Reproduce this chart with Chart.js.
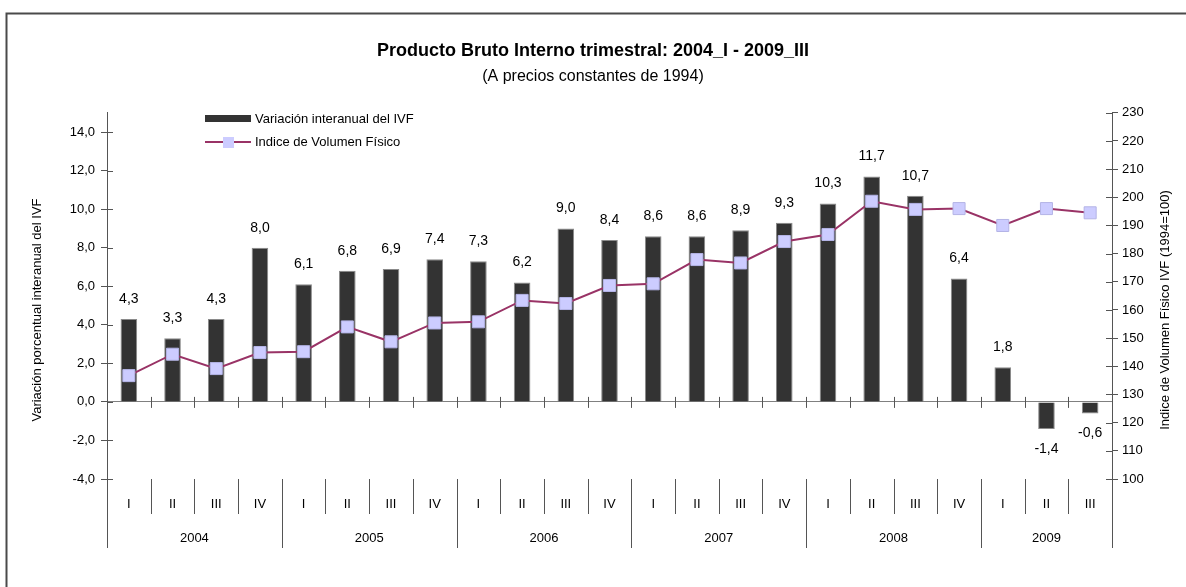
<!DOCTYPE html>
<html lang="es">
<head>
<meta charset="UTF-8">
<title>Producto Bruto Interno trimestral</title>
<script src="https://cdn.jsdelivr.net/npm/chart.js"></script>
<style>
  html, body { margin: 0; padding: 0; background: #fff; overflow: hidden; }
  canvas { display: block; }
</style>
</head>
<body>
<canvas id="pbiChart" width="1186" height="587"></canvas>
<script>
  // Quarters shown on the x axis, and the years that group them
  const quarters = ['I', 'II', 'III', 'IV', 'I', 'II', 'III', 'IV', 'I', 'II', 'III', 'IV',
                    'I', 'II', 'III', 'IV', 'I', 'II', 'III', 'IV', 'I', 'II', 'III'];
  const years = ['2004', '2005', '2006', '2007', '2008', '2009'];
  const quartersPerYear = [4, 4, 4, 4, 4, 3];

  // Variación interanual del IVF (%), left axis
  const variacion = [4.3, 3.3, 4.3, 8.0, 6.1, 6.8, 6.9, 7.4, 7.3, 6.2, 9.0, 8.4,
                     8.6, 8.6, 8.9, 9.3, 10.3, 11.7, 10.7, 6.4, 1.8, -1.4, -0.6];
  // Indice de Volumen Físico (1994=100), right axis
  const ivf = [136.7, 144.3, 139.2, 144.9, 145.2, 154.0, 148.7, 155.4, 155.8, 163.4, 162.3, 168.7,
               169.3, 177.9, 176.7, 184.3, 186.8, 198.6, 195.7, 196.0, 190.0, 196.0, 194.5];

  const leftTicks = [-4, -2, 0, 2, 4, 6, 8, 10, 12, 14];
  const rightTicks = [100, 110, 120, 130, 140, 150, 160, 170, 180, 190, 200, 210, 220, 230];

  const FONT = "'Liberation Sans Narrow', 'Arial Narrow', 'Liberation Sans', Arial, sans-serif";
  Chart.defaults.font.family = FONT;
  Chart.defaults.color = '#000';

  const fmt = v => v.toFixed(1).replace('.', ',');

  // frame, axis extensions, separators, year labels, value labels, legend
  const decor = {
    id: 'decor',
    beforeDraw(chart) {
      const ctx = chart.ctx;
      ctx.save();
      ctx.fillStyle = '#fff';
      ctx.fillRect(0, 0, chart.width, chart.height);
      ctx.strokeStyle = '#4a4a4a';
      ctx.lineWidth = 2;
      ctx.beginPath();
      ctx.moveTo(6.5, chart.height + 2);
      ctx.lineTo(6.5, 13.5);
      ctx.lineTo(chart.width + 2, 13.5);
      ctx.stroke();
      ctx.restore();
    },
    afterDatasetsDraw(chart) {
      const ctx = chart.ctx;
      const meta = chart.getDatasetMeta(1);
      ctx.save();
      ctx.font = '14px ' + FONT;
      ctx.fillStyle = '#000';
      ctx.textAlign = 'center';
      ctx.textBaseline = 'middle';
      meta.data.forEach((bar, i) => {
        const v = variacion[i];
        ctx.fillText(fmt(v), bar.x, v >= 0 ? bar.y - 20 : bar.y + 20);
      });
      ctx.restore();
    },
    afterDraw(chart) {
      const { ctx, chartArea: a, scales } = chart;
      const x = scales.x, y = scales.y, y1 = scales.y1;
      const catW = x.getPixelForValue(1) - x.getPixelForValue(0);
      const y0 = y.getPixelForValue(0);
      const bottom = 548;
      ctx.save();
      ctx.strokeStyle = '#555';
      ctx.lineWidth = 1;

      // axis lines continue down through the category labels
      ctx.beginPath();
      ctx.moveTo(Math.round(a.left) + 0.5, a.bottom);
      ctx.lineTo(Math.round(a.left) + 0.5, bottom);
      ctx.moveTo(Math.round(a.right) + 0.5, a.bottom);
      ctx.lineTo(Math.round(a.right) + 0.5, bottom);
      ctx.stroke();

      // inner half of the crossing ticks on both value axes
      ctx.beginPath();
      y.ticks.forEach(t => {
        const py = Math.round(y.getPixelForValue(t.value)) + 0.5;
        ctx.moveTo(a.left, py);
        ctx.lineTo(a.left + 6, py);
      });
      y1.ticks.forEach(t => {
        const py = Math.round(y1.getPixelForValue(t.value)) + 0.5;
        ctx.moveTo(a.right - 6, py);
        ctx.lineTo(a.right, py);
      });
      ctx.stroke();

      // ticks on the zero line and separators below the plot
      const yearStarts = [];
      let s = 0;
      quartersPerYear.forEach(n => { yearStarts.push(s); s += n; });
      ctx.beginPath();
      for (let i = 1; i < quarters.length; i++) {
        const bx = Math.round(x.getPixelForValue(i) - catW / 2) + 0.5;
        ctx.moveTo(bx, y0 - 5);
        ctx.lineTo(bx, y0 + 6);
        ctx.moveTo(bx, a.bottom);
        ctx.lineTo(bx, yearStarts.includes(i) ? bottom : 514);
      }
      ctx.stroke();

      // year labels
      ctx.font = '13px ' + FONT;
      ctx.fillStyle = '#000';
      ctx.textAlign = 'center';
      ctx.textBaseline = 'middle';
      years.forEach((yr, k) => {
        const first = yearStarts[k], last = first + quartersPerYear[k] - 1;
        const cx = (x.getPixelForValue(first) + x.getPixelForValue(last)) / 2;
        ctx.fillText(yr, cx, 538);
      });

      // axis titles
      ctx.save();
      ctx.translate(37, 310);
      ctx.rotate(-Math.PI / 2);
      ctx.fillText('Variación porcentual interanual del IVF', 0, 0);
      ctx.restore();
      ctx.save();
      ctx.translate(1165, 310);
      ctx.rotate(-Math.PI / 2);
      ctx.fillText('Indice de Volumen Físico IVF (1994=100)', 0, 0);
      ctx.restore();

      // legend
      const barDs = chart.data.datasets[1], lineDs = chart.data.datasets[0];
      ctx.fillStyle = barDs.backgroundColor;
      ctx.fillRect(205, 115, 46, 7);
      ctx.strokeStyle = lineDs.borderColor;
      ctx.lineWidth = 2;
      ctx.beginPath();
      ctx.moveTo(205, 142);
      ctx.lineTo(251, 142);
      ctx.stroke();
      ctx.fillStyle = lineDs.pointBackgroundColor;
      ctx.fillRect(223, 137, 11, 11);
      ctx.fillStyle = '#000';
      ctx.textAlign = 'left';
      ctx.font = '13px ' + FONT;
      ctx.fillText(barDs.label, 255, 119);
      ctx.fillText(lineDs.label, 255, 142);
      ctx.restore();
    }
  };

  const ctx = document.getElementById('pbiChart').getContext('2d');
  new Chart(ctx, {
    data: {
      labels: quarters,
      datasets: [
        {
          type: 'line',
          label: 'Indice de Volumen Físico',
          data: ivf,
          yAxisID: 'y1',
          borderColor: '#993366',
          borderWidth: 2,
          pointStyle: 'rect',
          pointRadius: 8.5,
          pointBackgroundColor: '#CCCCFF',
          pointBorderColor: '#b4b4e6',
          pointBorderWidth: 1,
          tension: 0,
          order: 0
        },
        {
          type: 'bar',
          label: 'Variación interanual del IVF',
          data: variacion,
          yAxisID: 'y',
          backgroundColor: '#333333',
          borderColor: '#8a8a8a',
          borderWidth: 1,
          barPercentage: 0.38,
          categoryPercentage: 1.0,
          order: 1
        }
      ]
    },
    options: {
      responsive: false,
      animation: false,
      layout: { padding: 0 },
      plugins: {
        legend: { display: false },
        tooltip: { enabled: false },
        title: {
          display: true,
          text: 'Producto Bruto Interno trimestral: 2004_I - 2009_III',
          font: { size: 18, weight: 'bold' },
          color: '#000',
          padding: { top: 40, bottom: 4 }
        },
        subtitle: {
          display: true,
          text: '(A precios constantes de 1994)',
          font: { size: 16 },
          color: '#000',
          padding: { top: 1, bottom: 27 }
        }
      },
      scales: {
        x: {
          type: 'category',
          offset: true,
          grid: { display: false, drawTicks: false },
          border: { display: false },
          ticks: { font: { size: 13 }, padding: 18, maxRotation: 0, autoSkip: false },
          afterFit: s => { s.height = 108; }
        },
        y: {
          position: 'left',
          min: -4,
          max: 15,
          afterBuildTicks: s => { s.ticks = leftTicks.map(v => ({ value: v })); },
          grid: {
            drawOnChartArea: true,
            color: c => (c.tick && c.tick.value === 0 ? '#808080' : 'rgba(0,0,0,0)'),
            tickColor: '#555',
            tickLength: 6
          },
          border: { display: true, color: '#555', width: 1 },
          ticks: { font: { size: 13 }, padding: 6, callback: v => fmt(v) },
          afterFit: s => { s.width = 107; }
        },
        y1: {
          position: 'right',
          min: 100,
          max: 230,
          afterBuildTicks: s => { s.ticks = rightTicks.map(v => ({ value: v })); },
          grid: { drawOnChartArea: false, tickColor: '#555', tickLength: 6 },
          border: { display: true, color: '#555', width: 1 },
          ticks: { font: { size: 13 }, padding: 4 },
          afterFit: s => { s.width = 74; }
        }
      }
    },
    plugins: [decor]
  });
</script>
</body>
</html>
